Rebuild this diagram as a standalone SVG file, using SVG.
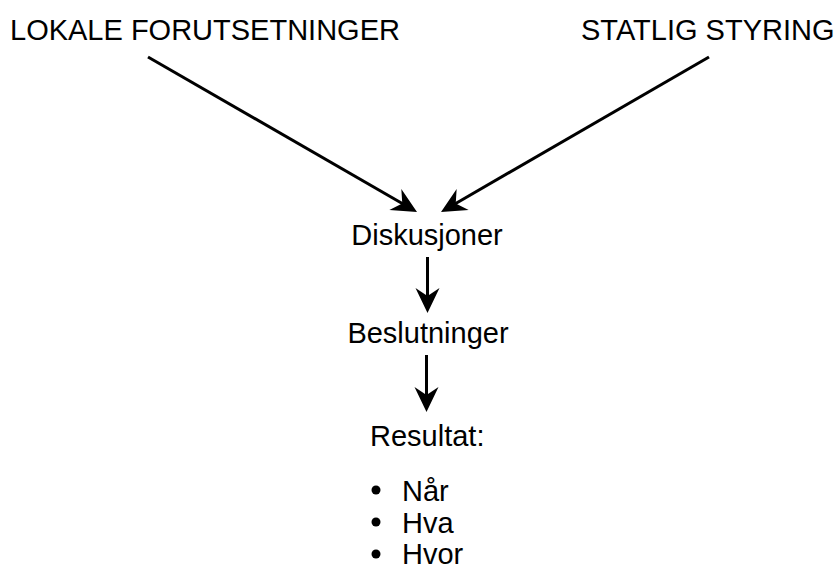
<svg xmlns="http://www.w3.org/2000/svg" width="836" height="569" viewBox="0 0 836 569">
<style>
text{font-family:"Liberation Sans",Arial,sans-serif;font-size:29px;fill:#000}
.c{stroke:#000;stroke-width:3;fill:none}
</style>
<defs>
<marker id="ah" viewBox="-14 -13 28 26" refX="0" refY="0" markerWidth="28" markerHeight="26" markerUnits="userSpaceOnUse" orient="auto" overflow="visible">
<path d="M12,0 L-13,-12 L-5,0 L-13,12 z" fill="#000"/>
</marker>
</defs>
<rect width="836" height="569" fill="#fff"/>
<g id="connectors">
<line class="c" x1="148" y1="57" x2="406.6" y2="206" marker-end="url(#ah)"/>
<line class="c" x1="709" y1="57" x2="451.4" y2="206" marker-end="url(#ah)"/>
<line class="c" x1="427.5" y1="257" x2="427.5" y2="301" marker-end="url(#ah)"/>
<line class="c" x1="426.5" y1="355" x2="426.5" y2="400" marker-end="url(#ah)"/>
</g>
<g id="lokale"><text x="10" y="40">LOKALE FORUTSETNINGER</text></g>
<g id="statlig"><text x="581" y="40">STATLIG STYRING</text></g>
<g id="diskusjoner"><text x="427" y="245" text-anchor="middle">Diskusjoner</text></g>
<g id="beslutninger"><text x="428" y="343" text-anchor="middle">Beslutninger</text></g>
<g id="resultat">
<text x="370" y="446">Resultat:</text>
<circle cx="376" cy="490" r="4.5"/>
<circle cx="376" cy="522" r="4.5"/>
<circle cx="376" cy="554" r="4.5"/>
<text x="402" y="501">Når</text>
<text x="402" y="533">Hva</text>
<text x="402" y="564">Hvor</text>
</g>
</svg>
